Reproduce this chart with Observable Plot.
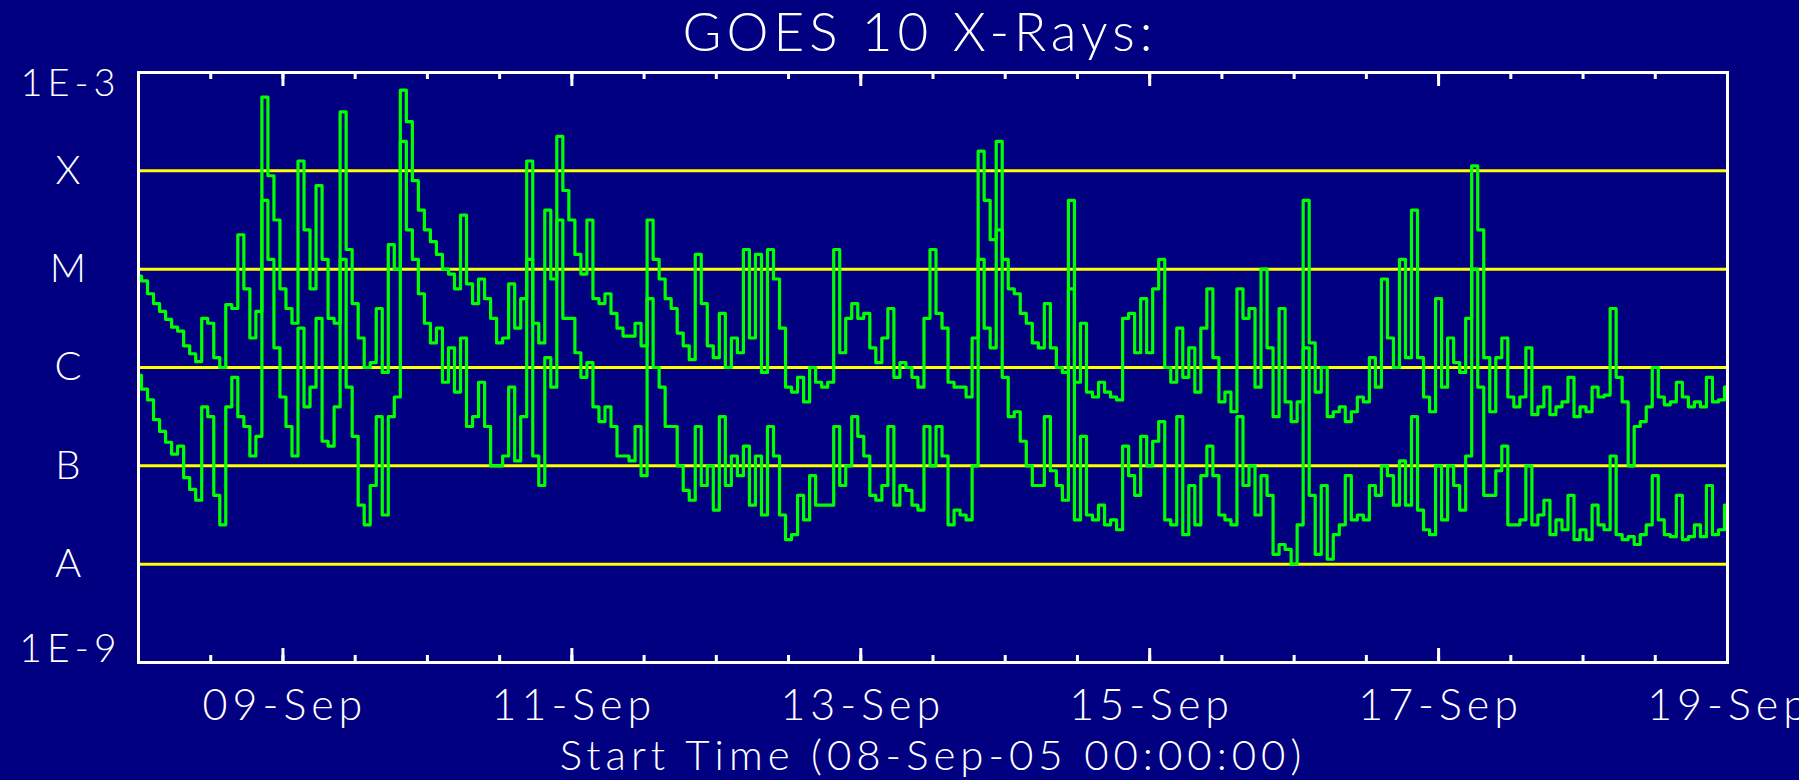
<!DOCTYPE html>
<html><head><meta charset="utf-8">
<script src="https://cdn.jsdelivr.net/npm/d3@7"></script>
<script src="https://cdn.jsdelivr.net/npm/@observablehq/plot@0.6"></script>
<style>
html,body{margin:0;padding:0;background:#000080;}
body{width:1799px;height:780px;overflow:hidden;position:relative;font-family:Lato,"DejaVu Sans",sans-serif;}
#title{position:absolute;left:920px;top:0;transform:translateX(-50%);color:#fff;font-size:53px;line-height:62px;font-weight:300;white-space:nowrap;letter-spacing:5px;z-index:2;}
#chart{position:absolute;left:0;top:30px;z-index:1;}
</style></head><body>
<div id="title">GOES 10 X-Rays:</div>
<div id="chart"></div>
<script>
// Sampling: hourly, starting 08-Sep-2005 00:00 UT
const startTime = "2005-09-08T00:00:00Z";
const endTime = "2005-09-19T00:00:00Z";
const stepHours = 1;

// log10 of flux (W/m^2), 1-8 Angstrom channel (upper trace)
const longLog10 = [
-5.07,-5.12,-5.25,-5.35,-5.43,-5.51,-5.59,-5.63,-5.78,-5.86,
-5.94,-5.5,-5.55,-5.9,-6.0,-5.36,-5.4,-4.65,-5.2,-5.7,
-5.43,-3.25,-4.05,-4.5,-5.2,-5.4,-5.55,-3.9,-4.6,-5.2,
-4.15,-4.9,-5.5,-5.55,-3.4,-4.8,-5.35,-5.7,-6.0,-5.95,
-5.4,-6.05,-4.75,-5.0,-3.18,-3.5,-4.1,-4.4,-4.6,-4.72,
-4.85,-5.0,-5.05,-5.2,-4.45,-5.15,-5.35,-5.1,-5.3,-5.5,
-5.75,-5.7,-5.15,-5.6,-5.3,-3.9,-5.55,-5.75,-4.4,-5.1,
-3.65,-4.2,-4.5,-4.85,-5.05,-4.5,-5.3,-5.35,-5.25,-5.45,
-5.6,-5.68,-5.68,-5.55,-5.78,-4.5,-4.9,-5.1,-5.3,-5.4,
-5.65,-5.78,-5.92,-4.85,-5.35,-5.78,-5.9,-5.45,-6.0,-5.7,
-5.85,-4.8,-5.7,-4.85,-6.05,-4.8,-5.1,-5.6,-6.2,-6.25,
-6.1,-6.35,-6.0,-6.15,-6.2,-6.15,-4.8,-5.85,-5.5,-5.35,
-5.5,-5.45,-5.8,-5.95,-5.7,-5.4,-6.1,-5.95,-6.0,-6.1,
-6.2,-5.5,-4.8,-5.45,-5.6,-6.15,-6.2,-6.2,-6.3,-5.7,
-3.8,-4.3,-4.7,-3.7,-4.9,-5.2,-5.25,-5.45,-5.55,-5.75,
-5.8,-5.35,-5.8,-6.0,-6.05,-4.3,-6.15,-5.55,-6.25,-6.3,
-6.15,-6.25,-6.3,-6.33,-5.5,-5.45,-5.85,-5.3,-5.85,-5.2,
-4.9,-6.0,-6.15,-5.6,-6.1,-5.8,-6.25,-5.6,-5.2,-5.9,
-6.35,-6.25,-6.45,-5.2,-5.5,-5.4,-6.2,-5.0,-5.8,-6.5,
-5.4,-6.35,-6.55,-6.35,-4.3,-5.75,-6.25,-6.0,-6.5,-6.45,
-6.4,-6.55,-6.45,-6.3,-6.35,-5.9,-6.2,-5.1,-5.7,-6.0,
-4.9,-5.9,-4.4,-5.9,-6.3,-6.45,-5.3,-6.2,-5.7,-5.95,
-6.05,-5.5,-3.95,-4.6,-5.9,-6.45,-5.9,-5.7,-6.3,-6.4,
-6.3,-5.8,-6.48,-6.4,-6.2,-6.48,-6.4,-6.35,-6.1,-6.5,
-6.4,-6.45,-6.2,-6.3,-6.28,-5.4,-6.1,-6.35,-7.0,-6.6,
-6.55,-6.4,-6.0,-6.3,-6.38,-6.35,-6.15,-6.3,-6.4,-6.35,
-6.4,-6.1,-6.35,-6.33,-6.2
];

// log10 of flux (W/m^2), 0.5-4 Angstrom channel (lower trace)
const shortLog10 = [
-6.08,-6.22,-6.33,-6.53,-6.65,-6.76,-6.88,-6.8,-7.12,-7.24,
-7.35,-6.4,-6.5,-7.3,-7.6,-6.4,-6.1,-6.5,-6.6,-6.9,
-6.7,-4.3,-4.9,-5.8,-6.3,-6.6,-6.9,-5.6,-6.4,-6.2,
-5.5,-6.75,-6.8,-6.4,-4.9,-6.2,-6.7,-7.4,-7.6,-7.2,
-6.5,-7.5,-6.5,-6.3,-3.7,-4.6,-4.9,-5.25,-5.55,-5.75,
-5.6,-6.15,-5.8,-6.25,-5.7,-6.6,-6.5,-6.15,-6.6,-7.0,
-7.0,-6.9,-6.2,-6.95,-6.5,-4.9,-6.9,-7.2,-5.9,-6.2,
-4.5,-5.5,-5.5,-5.85,-6.1,-5.95,-6.4,-6.55,-6.4,-6.6,
-6.9,-6.9,-6.95,-6.6,-7.1,-5.3,-6.0,-6.2,-6.6,-6.6,
-7.0,-7.25,-7.35,-6.6,-7.2,-7.0,-7.45,-6.5,-7.2,-6.9,
-7.1,-6.8,-7.4,-6.9,-7.5,-6.6,-6.9,-7.5,-7.75,-7.7,
-7.3,-7.55,-7.1,-7.4,-7.4,-7.4,-6.6,-7.2,-7.0,-6.5,
-6.7,-6.9,-7.3,-7.35,-7.2,-6.6,-7.4,-7.2,-7.25,-7.4,
-7.45,-6.6,-7.0,-6.6,-6.9,-7.6,-7.45,-7.5,-7.55,-7.0,
-4.9,-5.6,-5.8,-4.6,-6.1,-6.5,-6.45,-6.75,-7.0,-7.2,
-7.2,-6.5,-7.05,-7.2,-7.35,-5.2,-7.55,-6.7,-7.5,-7.55,
-7.4,-7.6,-7.55,-7.65,-6.8,-7.1,-7.3,-6.7,-7.0,-6.75,
-6.55,-7.55,-7.6,-6.5,-7.7,-7.2,-7.6,-7.1,-6.8,-7.1,
-7.5,-7.55,-7.6,-6.5,-7.2,-7.0,-7.5,-7.1,-7.3,-7.9,
-7.8,-7.85,-8.0,-7.6,-5.8,-7.3,-7.9,-7.2,-7.95,-7.7,
-7.6,-7.1,-7.55,-7.5,-7.55,-7.2,-7.3,-7.0,-7.1,-7.4,
-6.95,-7.4,-6.5,-7.45,-7.65,-7.7,-7.0,-7.55,-7.0,-7.2,
-7.45,-6.9,-5.0,-6.2,-7.3,-7.3,-7.05,-6.8,-7.6,-7.6,
-7.55,-7.0,-7.6,-7.5,-7.35,-7.7,-7.55,-7.65,-7.3,-7.75,
-7.65,-7.75,-7.4,-7.6,-7.65,-6.9,-7.7,-7.75,-7.72,-7.8,
-7.7,-7.6,-7.1,-7.55,-7.7,-7.72,-7.3,-7.75,-7.72,-7.6,
-7.72,-7.2,-7.7,-7.65,-7.4
];

// Flare class reference levels and labels
const levelValues = [1e-4, 1e-5, 1e-6, 1e-7, 1e-8];
const levelLabels = ["X", "M", "C", "B", "A"];
const yDomain = [1e-9, 1e-3];
const yTopLabel = "1E-3";
const yBottomLabel = "1E-9";
const xLabel = "Start Time (08-Sep-05 00:00:00)";

const t0 = new Date(startTime);
const t1 = new Date(endTime);
const rows = [];
longLog10.forEach((v, i) => rows.push({t: new Date(+t0 + i * stepHours * 3600e3), flux: Math.pow(10, v), ch: "long"}));
shortLog10.forEach((v, i) => rows.push({t: new Date(+t0 + i * stepHours * 3600e3), flux: Math.pow(10, v), ch: "short"}));

const minorTicks = d3.utcHour.every(12).range(t0, new Date(+t1 + 1));
const majorTicks = d3.utcDay.every(2).range(t0, new Date(+t1 + 1));
const fmt = d3.utcFormat("%d-%b");

const W = 1799, H = 750, mL = 138, mR = 72, mT = 42, mB = 118;
const frameH = H - mT - mB;
const white = "#ffffff";
const tickW = 3;

const chart = Plot.plot({
  width: W, height: H,
  marginLeft: mL, marginRight: mR, marginTop: mT, marginBottom: mB,
  style: {background: "transparent", color: white, fontFamily: "Lato, 'DejaVu Sans', sans-serif", letterSpacing: "5px"},
  x: {type: "utc", domain: [t0, t1], axis: null},
  y: {type: "log", domain: yDomain, axis: null},
  marks: [
    Plot.ruleY(levelValues, {stroke: "#ffff00", strokeWidth: 3}),
    Plot.line(rows, {x: "t", y: "flux", z: "ch", stroke: "#00ff00", strokeWidth: 3.2, curve: "step"}),
    Plot.ruleX(minorTicks, {stroke: white, strokeWidth: tickW, insetTop: frameH - 7}),
    Plot.ruleX(minorTicks, {stroke: white, strokeWidth: tickW, insetBottom: frameH - 7}),
    Plot.ruleX(majorTicks, {stroke: white, strokeWidth: tickW, insetTop: frameH - 14}),
    Plot.ruleX(majorTicks, {stroke: white, strokeWidth: tickW, insetBottom: frameH - 14}),
    Plot.frame({stroke: white, strokeWidth: 3}),
    Plot.text(levelValues, {y: d => d, text: (d, i) => levelLabels[i], frameAnchor: "left", dx: -68,
      textAnchor: "middle", lineAnchor: "middle", fill: white, fontSize: 40, fontWeight: 300}),
    Plot.text([yDomain[1]], {y: d => d, text: [yTopLabel], frameAnchor: "left", dx: -68, dy: -3,
      textAnchor: "middle", lineAnchor: "top", fill: white, fontSize: 38, fontWeight: 300}),
    Plot.text([yDomain[0]], {y: d => d, text: [yBottomLabel], frameAnchor: "left", dx: -68, dy: -1,
      textAnchor: "middle", lineAnchor: "bottom", fill: white, fontSize: 39, fontWeight: 300}),
    Plot.text(majorTicks, {x: d => d, text: d => fmt(d), frameAnchor: "bottom", dy: 57, dx: 2,
      textAnchor: "middle", lineAnchor: "bottom", fill: white, fontSize: 43, fontWeight: 300}),
    Plot.text([xLabel], {text: d => d, frameAnchor: "bottom", dy: 107, dx: 0,
      textAnchor: "middle", lineAnchor: "bottom", fill: white, fontSize: 42, fontWeight: 300})
  ]
});
document.getElementById("chart").appendChild(chart);
</script>
</body></html>
